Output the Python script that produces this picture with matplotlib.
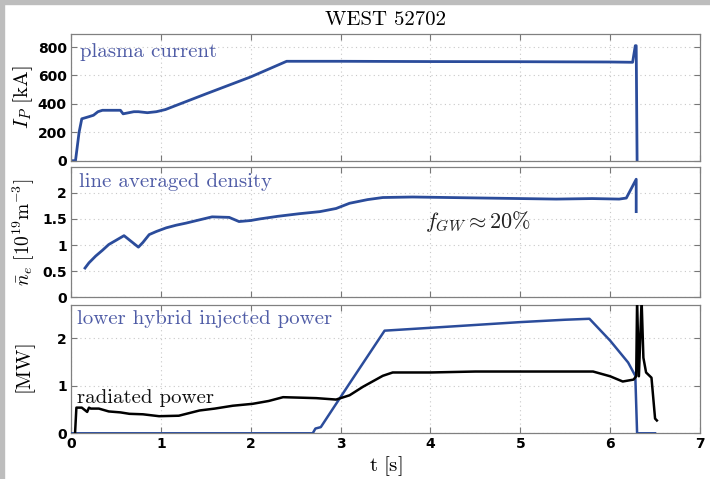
import matplotlib
matplotlib.use("Agg")
import matplotlib.pyplot as plt
from matplotlib.patches import Rectangle

plt.rcParams['mathtext.fontset'] = 'cm'

# ---- data ----
t_ip = [0.0, 0.05, 0.09, 0.12, 0.2, 0.25, 0.3, 0.35, 0.45, 0.55, 0.58, 0.62, 0.7, 0.75,
        0.85, 0.95, 1.05, 1.5, 2.0, 2.4, 3.0, 4.0, 5.0, 6.0, 6.25, 6.28, 6.29, 6.3]
ip = [0, 0, 200, 295, 310, 320, 345, 355, 355, 355, 330, 335, 345, 345,
      338, 345, 360, 470, 590, 700, 700, 698, 697, 695, 693, 810, 810, 0]

t_ne = [0.156, 0.2, 0.275, 0.35, 0.42, 0.5, 0.59, 0.67, 0.75, 0.8, 0.87, 0.95, 1.06, 1.17,
        1.28, 1.4, 1.57, 1.76, 1.87, 2.0, 2.1, 2.3, 2.54, 2.77, 2.95, 3.1, 3.3, 3.47,
        3.8, 4.2, 4.6, 5.0, 5.4, 5.8, 6.1, 6.18, 6.29, 6.29]
ne = [0.56, 0.66, 0.79, 0.9, 1.01, 1.09, 1.18, 1.07, 0.96, 1.05, 1.2, 1.26, 1.33, 1.38,
      1.42, 1.47, 1.54, 1.53, 1.45, 1.47, 1.5, 1.55, 1.6, 1.64, 1.7, 1.8, 1.87, 1.91,
      1.92, 1.91, 1.9, 1.89, 1.88, 1.89, 1.88, 1.9, 2.26, 1.64]

t_lh = [0.0, 2.69, 2.72, 2.78, 3.1, 3.49, 4.0, 4.5, 5.0, 5.5, 5.77, 6.0, 6.2, 6.28, 6.3, 6.5]
p_lh = [0.0, 0.0, 0.1, 0.13, 1.05, 2.16, 2.22, 2.28, 2.34, 2.39, 2.41, 1.95, 1.49, 1.21, 0.0, 0.0]

t_rad = [0.045, 0.06, 0.12, 0.18, 0.2, 0.22, 0.31, 0.42, 0.55, 0.65, 0.8, 0.98, 1.2,
         1.43, 1.6, 1.8, 2.02, 2.2, 2.36, 2.55, 2.73, 2.95, 3.1, 3.25, 3.47, 3.58,
         4.0, 4.5, 5.0, 5.5, 5.81, 6.0, 6.14, 6.26, 6.29, 6.3, 6.32, 6.35, 6.37,
         6.4, 6.46, 6.5, 6.52]
p_rad = [0.0, 0.54, 0.54, 0.45, 0.54, 0.52, 0.52, 0.46, 0.44, 0.41, 0.4, 0.36, 0.37,
         0.48, 0.52, 0.58, 0.62, 0.68, 0.76, 0.75, 0.74, 0.71, 0.8, 0.98, 1.21, 1.28,
         1.28, 1.3, 1.3, 1.3, 1.3, 1.2, 1.09, 1.13, 1.2, 2.8, 1.2, 2.8, 1.59,
         1.28, 1.17, 0.31, 0.27]

ip_ticks = [0, 200, 400, 600, 800]
ne_ticks = [0, 0.5, 1, 1.5, 2]
ne_ticklabels = ['0', '0.5', '1', '1.5', '2']
p_ticks = [0, 1, 2]
t_ticks = [0, 1, 2, 3, 4, 5, 6, 7]

BLUE = '#2b4c9b'
TBLUE = '#4f5ca6'
SERIF = 'cmr10'

fig = plt.figure(figsize=(7.1, 4.79), dpi=100)
fig.patch.set_facecolor('white')
fig.add_artist(Rectangle((0, 1 - 3.5 / 479), 1, 3.5 / 479, transform=fig.transFigure,
                         color='#bdbdbd', zorder=0))
fig.add_artist(Rectangle((0, 0), 4 / 710, 1, transform=fig.transFigure,
                         color='#bdbdbd', zorder=0))

L, W = 71 / 710, 629 / 710
def box(top, bot):
    return [L, 1 - bot / 479, W, (bot - top) / 479]

ax1 = fig.add_axes(box(34.3, 160.7))
ax2 = fig.add_axes(box(166.7, 297.3))
ax3 = fig.add_axes(box(305, 433.3))

for ax in (ax1, ax2, ax3):
    ax.set_xlim(0, 7)
    ax.set_xticks(t_ticks)
    ax.grid(True, linestyle=(0, (1, 3)), color='#c8c8c8', linewidth=0.8)
    ax.tick_params(direction='in', length=4, width=0.8, color='#777777',
                   top=True, right=True, labelsize=10, pad=3)
    for s in ax.spines.values():
        s.set_color('#808080')
        s.set_linewidth(0.9)

ax1.plot(t_ip, ip, color=BLUE, lw=2.0)
ax1.set_ylim(0, 890)
ax1.set_yticks(ip_ticks)
ax1.tick_params(labelbottom=False)
ax1.set_ylabel(r'$I_P\ \mathrm{[kA]}$', fontsize=15)
ax1.yaxis.set_label_coords(-0.058, 0.5)
ax1.text(0.015, 0.93, 'plasma current', transform=ax1.transAxes, color=TBLUE,
         fontsize=15, family=SERIF, va='top', ha='left')
ax1.set_title('WEST 52702', family=SERIF, fontsize=15, pad=7)

ax2.plot(t_ne, ne, color=BLUE, lw=2.0)
ax2.set_ylim(0, 2.5)
ax2.set_yticks(ne_ticks)
ax2.set_yticklabels(ne_ticklabels)
ax2.tick_params(labelbottom=False)
ax2.set_ylabel(r'$\bar{n}_e\ [10^{19}\mathrm{m}^{-3}]$', fontsize=14)
ax2.yaxis.set_label_coords(-0.054, 0.5)
ax2.text(0.012, 0.95, 'line averaged density', transform=ax2.transAxes, color=TBLUE,
         fontsize=15, family=SERIF, va='top', ha='left')
ax2.text(4.53, 1.45, r'$f_{GW} \approx 20\%$', fontsize=16, ha='center', va='center',
         color='#222222')

ax3.plot(t_lh, p_lh, color=BLUE, lw=1.8, zorder=3)
ax3.plot(t_rad, p_rad, color='black', lw=1.8, zorder=4)
ax3.set_ylim(0, 2.7)
ax3.set_yticks(p_ticks)
ax3.set_ylabel(r'$\mathrm{[MW]}$', fontsize=15)
ax3.yaxis.set_label_coords(-0.052, 0.5)
ax3.set_xlabel(r'$\mathrm{t\ [s]}$', fontsize=15, labelpad=2)
ax3.text(0.01, 0.96, 'lower hybrid injected power', transform=ax3.transAxes,
         color=TBLUE, fontsize=15, family=SERIF, va='top', ha='left')
ax3.text(0.01, 0.236, 'radiated power', transform=ax3.transAxes,
         color='#111111', fontsize=15, family=SERIF, va='baseline', ha='left')

for ax in (ax1, ax2, ax3):
    for lab in ax.get_yticklabels() + ax.get_xticklabels():
        lab.set_fontweight('bold')

fig.savefig('out.png', dpi=100)
